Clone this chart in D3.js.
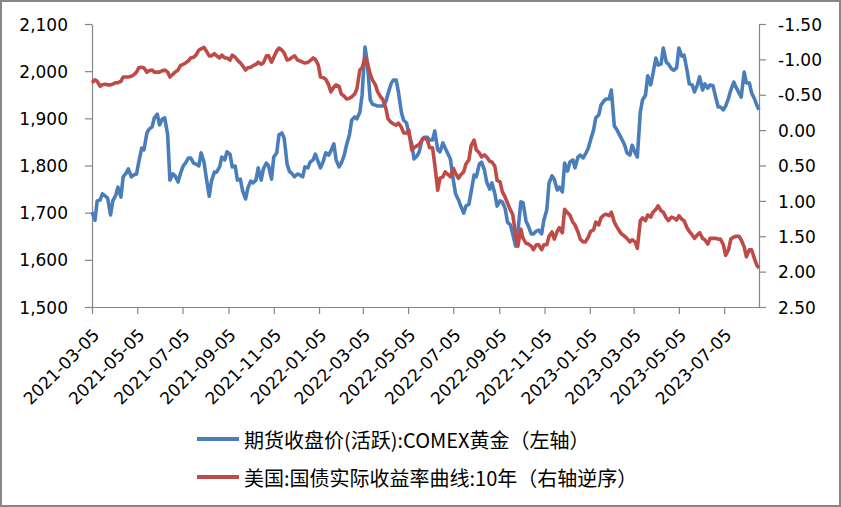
<!DOCTYPE html>
<html>
<head>
<meta charset="utf-8">
<script src="https://cdn.jsdelivr.net/npm/d3@7"></script>
<style>
  body { margin: 0; background: #fff; }
  svg { display: block; }
  .tick text { font-family: "DejaVu Sans", sans-serif; font-size: 17px; fill: #000; }
  .legend text { font-family: "Noto Sans CJK SC", sans-serif; font-size: 20px; fill: #000; }
</style>
</head>
<body>
<svg id="chart" width="841" height="507"></svg>
<script>
// trading dates sampled twice a week
const dates = [
  '2021-03-05','2021-03-09','2021-03-12','2021-03-16','2021-03-19','2021-03-23','2021-03-26','2021-03-30',
  '2021-04-02','2021-04-06','2021-04-09','2021-04-13','2021-04-16','2021-04-20','2021-04-23','2021-04-27',
  '2021-04-30','2021-05-04','2021-05-07','2021-05-11','2021-05-14','2021-05-18','2021-05-21','2021-05-25',
  '2021-05-28','2021-06-01','2021-06-04','2021-06-08','2021-06-11','2021-06-15','2021-06-18','2021-06-22',
  '2021-06-25','2021-06-29','2021-07-02','2021-07-06','2021-07-09','2021-07-13','2021-07-16','2021-07-20',
  '2021-07-23','2021-07-27','2021-07-30','2021-08-03','2021-08-06','2021-08-10','2021-08-13','2021-08-17',
  '2021-08-20','2021-08-24','2021-08-27','2021-08-31','2021-09-03','2021-09-07','2021-09-10','2021-09-14',
  '2021-09-17','2021-09-21','2021-09-24','2021-09-28','2021-10-01','2021-10-05','2021-10-08','2021-10-12',
  '2021-10-15','2021-10-19','2021-10-22','2021-10-26','2021-10-29','2021-11-02','2021-11-05','2021-11-09',
  '2021-11-12','2021-11-16','2021-11-19','2021-11-23','2021-11-26','2021-11-30','2021-12-03','2021-12-07',
  '2021-12-10','2021-12-14','2021-12-17','2021-12-21','2021-12-24','2021-12-28','2021-12-31','2022-01-04',
  '2022-01-07','2022-01-11','2022-01-14','2022-01-18','2022-01-21','2022-01-25','2022-01-28','2022-02-01',
  '2022-02-04','2022-02-08','2022-02-11','2022-02-15','2022-02-18','2022-02-22','2022-02-25','2022-03-01',
  '2022-03-04','2022-03-08','2022-03-11','2022-03-15','2022-03-18','2022-03-22','2022-03-25','2022-03-29',
  '2022-04-01','2022-04-05','2022-04-08','2022-04-12','2022-04-15','2022-04-19','2022-04-22','2022-04-26',
  '2022-04-29','2022-05-03','2022-05-06','2022-05-10','2022-05-13','2022-05-17','2022-05-20','2022-05-24',
  '2022-05-27','2022-05-31','2022-06-03','2022-06-07','2022-06-10','2022-06-14','2022-06-17','2022-06-21',
  '2022-06-24','2022-06-28','2022-07-01','2022-07-05','2022-07-08','2022-07-12','2022-07-15','2022-07-19',
  '2022-07-22','2022-07-26','2022-07-29','2022-08-02','2022-08-05','2022-08-09','2022-08-12','2022-08-16',
  '2022-08-19','2022-08-23','2022-08-26','2022-08-30','2022-09-02','2022-09-06','2022-09-09','2022-09-13',
  '2022-09-16','2022-09-20','2022-09-23','2022-09-27','2022-09-30','2022-10-04','2022-10-07','2022-10-11',
  '2022-10-14','2022-10-18','2022-10-21','2022-10-25','2022-10-28','2022-11-01','2022-11-04','2022-11-08',
  '2022-11-11','2022-11-15','2022-11-18','2022-11-22','2022-11-25','2022-11-29','2022-12-02','2022-12-06',
  '2022-12-09','2022-12-13','2022-12-16','2022-12-20','2022-12-23','2022-12-27','2022-12-30','2023-01-03',
  '2023-01-06','2023-01-10','2023-01-13','2023-01-17','2023-01-20','2023-01-24','2023-01-27','2023-01-31',
  '2023-02-03','2023-02-07','2023-02-10','2023-02-14','2023-02-17','2023-02-21','2023-02-24','2023-02-28',
  '2023-03-03','2023-03-07','2023-03-10','2023-03-14','2023-03-17','2023-03-21','2023-03-24','2023-03-28',
  '2023-03-31','2023-04-04','2023-04-07','2023-04-11','2023-04-14','2023-04-18','2023-04-21','2023-04-25',
  '2023-04-28','2023-05-02','2023-05-05','2023-05-09','2023-05-12','2023-05-16','2023-05-19','2023-05-23',
  '2023-05-26','2023-05-30','2023-06-02','2023-06-06','2023-06-09','2023-06-13','2023-06-16','2023-06-20',
  '2023-06-23','2023-06-27','2023-06-30','2023-07-04','2023-07-07','2023-07-11','2023-07-14','2023-07-18',
  '2023-07-21','2023-07-25','2023-07-28','2023-08-01','2023-08-04','2023-08-08','2023-08-11','2023-08-15',
  '2023-08-18','2023-08-21'
]

// COMEX gold, active contract close (left axis)
const goldClose = [
  1701,1684,1725,1727,1740,1735,1731,1695, 1725,1737,1754,1733,1776,1784,1793,1776,
  1780,1782,1807,1837,1833,1869,1877,1882, 1901,1909,1886,1899,1901,1865,1769,1782,
  1778,1765,1782,1799,1805,1816,1816,1805, 1803,1799,1827,1807,1774,1735,1767,1786,
  1786,1797,1818,1812,1829,1824,1797,1799, 1769,1771,1746,1729,1752,1767,1763,1769,
  1795,1769,1793,1805,1799,1771,1818,1827, 1865,1869,1858,1803,1788,1782,1776,1782,
  1780,1776,1797,1795,1807,1812,1824,1807, 1795,1810,1827,1822,1831,1846,1812,1797,
  1805,1822,1843,1865,1896,1903,1899,1913, 1949,2051,2019,1939,1930,1928,1926,1926,
  1926,1935,1952,1973,1981,1981,1956,1913, 1896,1890,1867,1846,1814,1820,1829,1856,
  1860,1860,1854,1854,1873,1833,1829,1848, 1837,1824,1814,1769,1740,1727,1714,1699,
  1714,1718,1744,1780,1776,1803,1807,1790, 1765,1750,1763,1740,1714,1725,1723,1708,
  1680,1674,1655,1629,1659,1723,1721,1682, 1672,1655,1655,1661,1663,1655,1684,1706,
  1763,1778,1771,1748,1754,1744,1805,1788, 1807,1812,1795,1818,1822,1816,1824,1837,
  1854,1875,1901,1907,1928,1937,1941,1941, 1960,1884,1877,1865,1856,1843,1827,1822,
  1843,1827,1818,1913,1939,1949,1990,1971, 1994,2028,2013,2015,2049,2019,2015,2005,
  2002,2007,2049,2032,2034,2002,1973,1971, 1956,1971,1988,1960,1973,1964,1971,1969,
  1949,1924,1924,1918,1926,1943,1960,1977, 1966,1954,1945,1998,1975,1975,1954,1941,
  1928,1918
]

// US 10y real yield, % (right axis, reversed)
const realYield = [
  -0.67,-0.71,-0.69,-0.62,-0.64,-0.65,-0.64,-0.64, -0.65,-0.67,-0.67,-0.69,-0.75,-0.75,-0.75,-0.76,
  -0.78,-0.82,-0.88,-0.89,-0.88,-0.82,-0.84,-0.85, -0.82,-0.82,-0.82,-0.84,-0.85,-0.82,-0.75,-0.79,
  -0.82,-0.85,-0.91,-0.93,-0.95,-0.98,-1.02,-1.03, -1.06,-1.13,-1.15,-1.17,-1.12,-1.05,-1.05,-1.08,
  -1.05,-1.02,-1.06,-1.02,-1.02,-0.99,-1.06,-1.03, -0.99,-0.95,-0.91,-0.85,-0.88,-0.89,-0.91,-0.93,
  -0.96,-0.93,-0.95,-1.05,-1.05,-0.96,-1.03,-1.12, -1.16,-1.13,-1.09,-0.99,-1.00,-1.03,-1.05,-0.99,
  -0.98,-0.96,-0.95,-0.96,-0.98,-1.02,-1.00,-0.92, -0.75,-0.74,-0.72,-0.64,-0.54,-0.61,-0.64,-0.62,
  -0.51,-0.48,-0.44,-0.45,-0.47,-0.51,-0.58,-0.85, -0.88,-1.02,-0.96,-0.79,-0.71,-0.64,-0.54,-0.47,
  -0.43,-0.31,-0.16,-0.11,-0.09,-0.07,-0.10,-0.04, 0.04,0.04,0.00,0.28,0.25,0.22,0.20,0.14,
  0.11,0.14,0.25,0.25,0.49,0.85,0.68,0.66, 0.59,0.63,0.66,0.54,0.61,0.68,0.63,0.59,
  0.48,0.42,0.22,0.14,0.28,0.32,0.38,0.35, 0.38,0.44,0.45,0.51,0.71,0.73,0.87,0.95,
  1.03,1.13,1.19,1.48,1.64,1.40,1.53,1.60, 1.61,1.64,1.69,1.62,1.62,1.69,1.62,1.62,
  1.50,1.44,1.54,1.43,1.38,1.45,1.12,1.17, 1.20,1.30,1.34,1.44,1.54,1.58,1.58,1.51,
  1.43,1.41,1.30,1.34,1.24,1.20,1.19,1.21, 1.16,1.30,1.36,1.43,1.47,1.50,1.53,1.58,
  1.55,1.58,1.67,1.28,1.24,1.28,1.20,1.23, 1.16,1.12,1.07,1.14,1.16,1.24,1.28,1.23,
  1.24,1.27,1.21,1.26,1.28,1.38,1.43,1.48, 1.53,1.48,1.45,1.53,1.55,1.61,1.53,1.53,
  1.53,1.54,1.54,1.62,1.77,1.69,1.54,1.51, 1.50,1.50,1.55,1.65,1.79,1.69,1.69,1.82,
  1.91,1.95
]

const leftTicks = [1500, 1600, 1700, 1800, 1900, 2000, 2100]
const rightTicks = [-1.5, -1.0, -0.5, 0, 0.5, 1.0, 1.5, 2.0, 2.5]
const xTickLabels = ['2021-03-05','2021-05-05','2021-07-05','2021-09-05','2021-11-05','2022-01-05',
  '2022-03-05','2022-05-05','2022-07-05','2022-09-05','2022-11-05','2023-01-05','2023-03-05',
  '2023-05-05','2023-07-05']
const seriesNames = ['期货收盘价(活跃):COMEX黄金（左轴）', '美国:国债实际收益率曲线:10年（右轴逆序）']
const seriesColors = ['#4A7EBB', '#BE4B48']

const parse = d3.timeParse('%Y-%m-%d')
const rows = dates.map((d, i) => ({date: parse(d), gold: goldClose[i], ry: realYield[i]}))

const svg = d3.select('#chart')
const plot = {left: 92, right: 759, top: 24, bottom: 307}

// outer frame
svg.append('rect').attr('x', 1).attr('y', 1).attr('width', 839).attr('height', 505)
  .attr('fill', '#fff').attr('stroke', '#868686').attr('stroke-width', 2)

const x = d3.scaleTime()
  .domain([parse('2021-03-05'), parse('2023-08-21')])
  .range([plot.left, plot.right])
const yL = d3.scaleLinear().domain([1500, 2100]).range([plot.bottom, plot.top])
const yR = d3.scaleLinear().domain([-1.5, 2.5]).range([plot.top, plot.bottom])

function styleAxis(g) {
  g.select('.domain').attr('stroke', '#868686').attr('stroke-width', 1.2)
  g.selectAll('.tick line').attr('stroke', '#868686').attr('stroke-width', 1.2)
}

svg.append('g').attr('transform', `translate(${plot.left},0)`)
  .call(d3.axisLeft(yL).tickValues(leftTicks).tickSize(7).tickSizeOuter(0).tickPadding(17)
    .tickFormat(d3.format(',')))
  .call(styleAxis)
  .selectAll('.tick text').attr('dy', '0.36em')

svg.append('g').attr('transform', `translate(${plot.right},0)`)
  .call(d3.axisRight(yR).tickValues(rightTicks).tickSize(7).tickSizeOuter(0).tickPadding(12)
    .tickFormat(d => d.toFixed(2)))
  .call(styleAxis)
  .selectAll('.tick text').attr('dy', '0.36em')

svg.append('g').attr('transform', `translate(0,${plot.bottom})`)
  .call(d3.axisBottom(x).tickValues(xTickLabels.map(parse)).tickSize(7).tickSizeOuter(0)
    .tickFormat(d3.timeFormat('%Y-%m-%d')))
  .call(styleAxis)
  .selectAll('.tick text')
    .attr('x', 0).attr('y', 0).attr('dy', 0)
    .attr('text-anchor', 'end')
    .attr('transform', 'translate(8,29) rotate(-45)')

const goldLine = d3.line().x(d => x(d.date)).y(d => yL(d.gold))
const ryLine = d3.line().x(d => x(d.date)).y(d => yR(d.ry))

svg.append('path').datum(rows).attr('d', goldLine)
  .attr('fill', 'none').attr('stroke', seriesColors[0]).attr('stroke-width', 3.6)
  .attr('stroke-linejoin', 'round')
svg.append('path').datum(rows).attr('d', ryLine)
  .attr('fill', 'none').attr('stroke', seriesColors[1]).attr('stroke-width', 3.6)
  .attr('stroke-linejoin', 'round')

// legend
const legend = svg.append('g').attr('class', 'legend')
seriesNames.forEach((name, i) => {
  const ly = 439 + i * 38
  legend.append('line').attr('x1', 197).attr('x2', 239).attr('y1', ly).attr('y2', ly)
    .attr('stroke', seriesColors[i]).attr('stroke-width', 4)
  legend.append('text').attr('x', 244).attr('y', ly).attr('dominant-baseline', 'central')
    .text(name)
})
</script>
</body>
</html>
